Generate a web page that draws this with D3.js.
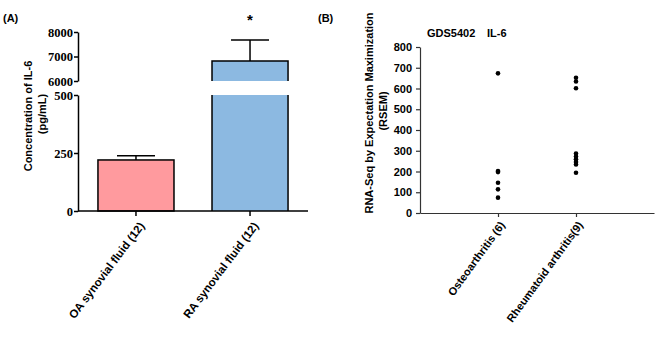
<!DOCTYPE html>
<html>
<head>
<meta charset="utf-8">
<script src="https://cdn.jsdelivr.net/npm/d3@7"></script>
<style>
  body { margin: 0; background: #fff; }
  svg { display: block; }
</style>
</head>
<body>
<div id="chart"></div>
<script>
// ---- data, panel A ----
const groupsA = ['OA synovial fluid (12)', 'RA synovial fluid (12)'];
const meansA = [220, 6820];
const semA = [18, 850];
const colorsA = ['#ff9a9e', '#8cb9e1'];
const lowTicksA = [0, 250, 500];
const highTicksA = [6000, 7000, 8000];

// ---- data, panel B ----
const groupsB = ['Osteoarthritis (6)', 'Rheumatoid arthritis(9)'];
const oaRsem = [673, 202, 197, 146, 114, 74];
const raRsem = [652, 634, 601, 287, 272, 259, 246, 234, 194];
const ticksB = [0, 100, 200, 300, 400, 500, 600, 700, 800];

const SANS = '"Liberation Sans", Arial, sans-serif';
const SERIF = '"Liberation Serif", "Times New Roman", serif';

const width = 659, height = 340;
const svg = d3.select('#chart').append('svg')
  .attr('width', width)
  .attr('height', height);

function label(g, txt, size) {
  return g.append('text')
    .style('font-family', SANS)
    .style('font-weight', 'bold')
    .style('font-size', size + 'px')
    .text(txt);
}

// ================= panel A =================
const gA = svg.append('g');

const xA = d3.scaleBand()
  .domain(groupsA)
  .range([78, 308])
  .paddingInner(1 / 3)
  .paddingOuter(0.175);

// broken y axis: two segments
const yLow = d3.scaleLinear().domain([0, 500]).range([211, 95]);
const yHigh = d3.scaleLinear().domain([6000, 8000]).range([81, 32]);
const breakAt = 500;

// bars
groupsA.forEach((g, i) => {
  const v = meansA[i];
  const x0 = xA(g), x1 = x0 + xA.bandwidth();
  const bar = gA.append('g');
  if (v <= breakAt) {
    bar.append('rect')
      .attr('x', x0).attr('y', yLow(v))
      .attr('width', xA.bandwidth()).attr('height', yLow(0) - yLow(v))
      .attr('fill', colorsA[i])
      .attr('stroke', '#000').attr('stroke-width', 1.5);
  } else {
    // lower piece
    bar.append('rect')
      .attr('x', x0).attr('y', yLow(breakAt))
      .attr('width', xA.bandwidth()).attr('height', yLow(0) - yLow(breakAt))
      .attr('fill', colorsA[i]);
    bar.append('path')
      .attr('d', `M${x0},${yLow(breakAt)}V${yLow(0)}M${x1},${yLow(breakAt)}V${yLow(0)}`)
      .attr('stroke', '#000').attr('stroke-width', 1.5).attr('fill', 'none');
    // upper piece
    bar.append('rect')
      .attr('x', x0).attr('y', yHigh(v))
      .attr('width', xA.bandwidth()).attr('height', yHigh(6000) - yHigh(v))
      .attr('fill', colorsA[i]);
    bar.append('path')
      .attr('d', `M${x0},${yHigh(6000)}V${yHigh(v)}H${x1}V${yHigh(6000)}`)
      .attr('stroke', '#000').attr('stroke-width', 1.5).attr('fill', 'none');
  }
  // error bar (upper only)
  const yS = v <= breakAt ? yLow : yHigh;
  const cx = x0 + xA.bandwidth() / 2;
  const cap = 19;
  gA.append('path')
    .attr('d', `M${cx},${yS(v)}V${yS(v + semA[i])}M${cx - cap},${yS(v + semA[i])}H${cx + cap}`)
    .attr('stroke', '#000').attr('stroke-width', 1.5).attr('fill', 'none');
});

// significance mark
label(gA, '*', 15)
  .attr('x', xA(groupsA[1]) + xA.bandwidth() / 2)
  .attr('y', 25)
  .attr('text-anchor', 'middle');

// axes
const axLow = gA.append('g')
  .attr('transform', 'translate(78,0)')
  .call(d3.axisLeft(yLow).tickValues(lowTicksA).tickFormat(d3.format('d')).tickSize(4).tickSizeOuter(0));
const axHigh = gA.append('g')
  .attr('transform', 'translate(78,0)')
  .call(d3.axisLeft(yHigh).tickValues(highTicksA).tickFormat(d3.format('d')).tickSize(4).tickSizeOuter(0));
[axLow, axHigh].forEach(ax => {
  ax.selectAll('path, line').attr('stroke', '#000').attr('stroke-width', 1.5);
  ax.selectAll('text')
    .attr('x', -5)
    .style('font-family', SERIF)
    .style('font-weight', 'bold')
    .style('font-size', '12.5px')
    .attr('fill', '#000');
});

const axXA = gA.append('g')
  .attr('transform', 'translate(0,211)')
  .call(d3.axisBottom(xA).tickSize(5).tickSizeOuter(0));
axXA.select('.domain').attr('d', 'M78,0H308');
axXA.selectAll('path, line').attr('stroke', '#000').attr('stroke-width', 1.5);
axXA.selectAll('text')
  .style('font-family', SANS)
  .style('font-weight', 'bold')
  .style('font-size', '11.5px')
  .attr('fill', '#000')
  .attr('text-anchor', 'end')
  .attr('x', 0).attr('y', 0).attr('dy', 0)
  .attr('transform', 'translate(9,15) rotate(-53)');

// labels
label(gA, '(A)', 11).attr('x', 3).attr('y', 22);
label(gA, 'Concentration of IL-6', 11)
  .attr('transform', 'translate(32,116) rotate(-90)')
  .attr('text-anchor', 'middle');
label(gA, '(pg/mL)', 11)
  .attr('transform', 'translate(46,114) rotate(-90)')
  .attr('text-anchor', 'middle');

// ================= panel B =================
const gB = svg.append('g');

const xB = d3.scalePoint()
  .domain(groupsB)
  .range([420, 654])
  .padding(1);
const yB = d3.scaleLinear().domain([0, 800]).range([213, 47]);

const axYB = gB.append('g')
  .attr('transform', 'translate(420,0)')
  .call(d3.axisLeft(yB).tickValues(ticksB).tickSize(4).tickSizeOuter(0));
const axXB = gB.append('g')
  .attr('transform', 'translate(0,213)')
  .call(d3.axisBottom(xB).tickSize(4).tickSizeOuter(0));
[axYB, axXB].forEach(ax => {
  ax.selectAll('path, line').attr('stroke', '#333').attr('stroke-width', 1.2);
  ax.selectAll('text')
    .style('font-family', SANS)
    .style('font-weight', 'bold')
    .style('font-size', '11px')
    .attr('fill', '#000');
});
axYB.selectAll('text').attr('x', -8);
axXB.selectAll('text')
  .attr('text-anchor', 'end')
  .attr('x', 0).attr('y', 0).attr('dy', 0)
  .attr('transform', 'translate(7,12) rotate(-54)');

const pts = [];
oaRsem.forEach(v => pts.push({ g: groupsB[0], v }));
raRsem.forEach(v => pts.push({ g: groupsB[1], v }));
gB.append('g').selectAll('circle')
  .data(pts)
  .join('circle')
  .attr('cx', d => xB(d.g))
  .attr('cy', d => yB(d.v))
  .attr('r', 2.3)
  .attr('fill', '#000');

label(gB, '(B)', 11).attr('x', 318).attr('y', 22);
label(gB, 'GDS5402', 11).attr('x', 427).attr('y', 37);
label(gB, 'IL-6', 11).attr('x', 487).attr('y', 37);
label(gB, 'RNA-Seq by Expectation Maximization', 11)
  .attr('transform', 'translate(373,113) rotate(-90)')
  .attr('text-anchor', 'middle');
label(gB, '(RSEM)', 11)
  .attr('transform', 'translate(387,111) rotate(-90)')
  .attr('text-anchor', 'middle');
</script>
</body>
</html>
